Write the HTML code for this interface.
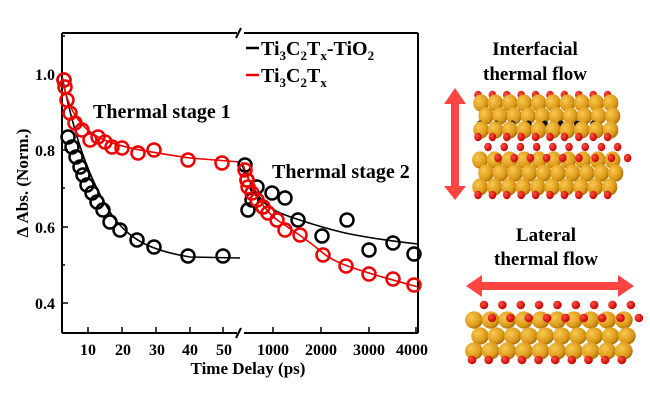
<!DOCTYPE html>
<html><head><style>
body{margin:0;background:#fff}
svg text{font-family:"Liberation Serif",serif;font-weight:bold}
</style></head><body>
<svg width="650" height="400" viewBox="0 0 650 400" xmlns="http://www.w3.org/2000/svg">
<defs>
<radialGradient id="gg" cx="0.35" cy="0.35" r="0.7"><stop offset="0" stop-color="#f8c850"/><stop offset="0.7" stop-color="#dd9a18"/><stop offset="1" stop-color="#a86c08"/></radialGradient>
<radialGradient id="rg" cx="0.35" cy="0.35" r="0.7"><stop offset="0" stop-color="#ff5040"/><stop offset="1" stop-color="#c00000"/></radialGradient>
<g id="g10"><circle cx="0" cy="0" r="8.6" fill="url(#gg)"/><circle cx="16" cy="0" r="8.6" fill="url(#gg)"/><circle cx="32" cy="0" r="8.6" fill="url(#gg)"/><circle cx="48" cy="0" r="8.6" fill="url(#gg)"/><circle cx="64" cy="0" r="8.6" fill="url(#gg)"/><circle cx="80" cy="0" r="8.6" fill="url(#gg)"/><circle cx="96" cy="0" r="8.6" fill="url(#gg)"/><circle cx="112" cy="0" r="8.6" fill="url(#gg)"/><circle cx="128" cy="0" r="8.6" fill="url(#gg)"/><circle cx="144" cy="0" r="8.6" fill="url(#gg)"/></g>
<g id="r10"><circle cx="0" cy="0" r="4.2" fill="url(#rg)"/><circle cx="16" cy="0" r="4.2" fill="url(#rg)"/><circle cx="32" cy="0" r="4.2" fill="url(#rg)"/><circle cx="48" cy="0" r="4.2" fill="url(#rg)"/><circle cx="64" cy="0" r="4.2" fill="url(#rg)"/><circle cx="80" cy="0" r="4.2" fill="url(#rg)"/><circle cx="96" cy="0" r="4.2" fill="url(#rg)"/><circle cx="112" cy="0" r="4.2" fill="url(#rg)"/><circle cx="128" cy="0" r="4.2" fill="url(#rg)"/><circle cx="144" cy="0" r="4.2" fill="url(#rg)"/></g>
<g id="r8"><circle cx="0" cy="0" r="4.2" fill="url(#rg)"/><circle cx="18" cy="0" r="4.2" fill="url(#rg)"/><circle cx="36" cy="0" r="4.2" fill="url(#rg)"/><circle cx="54" cy="0" r="4.2" fill="url(#rg)"/><circle cx="72" cy="0" r="4.2" fill="url(#rg)"/><circle cx="90" cy="0" r="4.2" fill="url(#rg)"/><circle cx="108" cy="0" r="4.2" fill="url(#rg)"/><circle cx="126" cy="0" r="4.2" fill="url(#rg)"/><circle cx="144" cy="0" r="4.2" fill="url(#rg)"/></g>
<g id="b8"><circle cx="0" cy="0" r="3.5" fill="#111"/><circle cx="18" cy="0" r="3.5" fill="#111"/><circle cx="36" cy="0" r="3.5" fill="#111"/><circle cx="54" cy="0" r="3.5" fill="#111"/><circle cx="72" cy="0" r="3.5" fill="#111"/><circle cx="90" cy="0" r="3.5" fill="#111"/><circle cx="108" cy="0" r="3.5" fill="#111"/><circle cx="126" cy="0" r="3.5" fill="#111"/></g>
</defs>
<!-- frame -->
<g stroke="#000" stroke-width="2" fill="none">
<line x1="62" y1="33" x2="62" y2="333"/>
<line x1="418" y1="33" x2="418" y2="333"/>
<line x1="62" y1="33" x2="237" y2="33"/><line x1="244" y1="33" x2="418" y2="33"/>
<line x1="62" y1="333" x2="237" y2="333"/><line x1="244" y1="333" x2="418" y2="333"/>
<line x1="236" y1="38" x2="241" y2="28"/><line x1="236" y1="338" x2="241" y2="328"/>
</g>
<g stroke="#000" stroke-width="1.5">
<line x1="62" y1="74" x2="68" y2="74"/><line x1="62" y1="150" x2="68" y2="150"/><line x1="62" y1="227" x2="68" y2="227"/><line x1="62" y1="303" x2="68" y2="303"/>
<line x1="62" y1="112" x2="65" y2="112"/><line x1="62" y1="188" x2="65" y2="188"/><line x1="62" y1="265" x2="65" y2="265"/><line x1="62" y1="36" x2="65" y2="36"/>
<line x1="88" y1="333" x2="88" y2="327"/><line x1="122" y1="333" x2="122" y2="327"/><line x1="156" y1="333" x2="156" y2="327"/><line x1="190" y1="333" x2="190" y2="327"/><line x1="223" y1="333" x2="223" y2="327"/>
<line x1="273" y1="333" x2="273" y2="327"/><line x1="321" y1="333" x2="321" y2="327"/><line x1="369" y1="333" x2="369" y2="327"/><line x1="416" y1="333" x2="416" y2="327"/>
</g>
<g font-size="16" text-anchor="end">
<text x="55" y="80">1.0</text><text x="55" y="156">0.8</text><text x="55" y="233">0.6</text><text x="55" y="309">0.4</text>
</g>
<g font-size="16" text-anchor="middle">
<text x="88" y="355">10</text><text x="123" y="355">20</text><text x="157" y="355">30</text><text x="190" y="355">40</text><text x="224" y="355">50</text>
<text x="273" y="355">1000</text><text x="321" y="355">2000</text><text x="369" y="355">3000</text><text x="412" y="355">4000</text>
<text x="248" y="374" font-size="17">Time Delay (ps)</text>
</g>
<text transform="translate(28,183) rotate(-90)" font-size="17" text-anchor="middle">Δ Abs. (Norm.)</text>
<!-- fits -->
<path d="M62,76 C75,140 90,180 110,212 S160,252 190,257 L240,258" stroke="#000" stroke-width="1.6" fill="none"/>
<path d="M62,78 C68,110 80,128 100,138 S150,152 190,158 L240,162" stroke="#e00" stroke-width="1.6" fill="none"/>
<path d="M242,165 C255,195 265,207 280,213 S330,230 350,234 S400,242 418,244" stroke="#000" stroke-width="1.6" fill="none"/>
<path d="M242,162 C250,185 262,210 280,222 S310,242 323,253 S360,270 369,273 S400,282 418,287" stroke="#e00" stroke-width="1.6" fill="none"/>
<!-- circles -->
<g fill="none" stroke="#000" stroke-width="2.5">
<circle cx="64" cy="80" r="6.5"/><circle cx="68" cy="137" r="6.5"/><circle cx="72" cy="147" r="6.5"/><circle cx="76" cy="157" r="6.5"/><circle cx="80" cy="167" r="6.5"/><circle cx="83" cy="175" r="6.5"/><circle cx="87" cy="185" r="6.5"/><circle cx="92" cy="193" r="6.5"/><circle cx="97" cy="202" r="6.5"/><circle cx="103" cy="210" r="6.5"/><circle cx="110" cy="222" r="6.5"/><circle cx="120" cy="230" r="6.5"/><circle cx="137" cy="240" r="6.5"/><circle cx="154" cy="247" r="6.5"/><circle cx="188" cy="256" r="6.5"/><circle cx="223" cy="256" r="6.5"/>
<circle cx="245" cy="165" r="6.5"/><circle cx="247" cy="180" r="6.5"/><circle cx="248" cy="210" r="6.5"/><circle cx="252" cy="200" r="6.5"/><circle cx="257" cy="187" r="6.5"/><circle cx="263" cy="207" r="6.5"/><circle cx="272" cy="193" r="6.5"/><circle cx="285" cy="198" r="6.5"/><circle cx="298" cy="220" r="6.5"/><circle cx="322" cy="236" r="6.5"/><circle cx="347" cy="220" r="6.5"/><circle cx="369" cy="250" r="6.5"/><circle cx="393" cy="243" r="6.5"/><circle cx="414" cy="254" r="6.5"/>
</g>
<g fill="none" stroke="#e00" stroke-width="2.5">
<circle cx="64" cy="80" r="6.5"/><circle cx="65" cy="87" r="6.5"/><circle cx="67" cy="100" r="6.5"/><circle cx="70" cy="113" r="6.5"/><circle cx="75" cy="123" r="6.5"/><circle cx="82" cy="130" r="6.5"/><circle cx="90" cy="140" r="6.5"/><circle cx="98" cy="137" r="6.5"/><circle cx="105" cy="142" r="6.5"/><circle cx="112" cy="147" r="6.5"/><circle cx="122" cy="148" r="6.5"/><circle cx="138" cy="153" r="6.5"/><circle cx="154" cy="150" r="6.5"/><circle cx="188" cy="160" r="6.5"/><circle cx="222" cy="163" r="6.5"/>
<circle cx="245" cy="170" r="6.5"/><circle cx="247" cy="180" r="6.5"/><circle cx="248" cy="187" r="6.5"/><circle cx="252" cy="193" r="6.5"/><circle cx="257" cy="200" r="6.5"/><circle cx="263" cy="207" r="6.5"/><circle cx="268" cy="213" r="6.5"/><circle cx="277" cy="220" r="6.5"/><circle cx="285" cy="230" r="6.5"/><circle cx="300" cy="235" r="6.5"/><circle cx="323" cy="255" r="6.5"/><circle cx="346" cy="266" r="6.5"/><circle cx="369" cy="274" r="6.5"/><circle cx="393" cy="279" r="6.5"/><circle cx="414" cy="285" r="6.5"/>
</g>
<!-- legend & annotations -->
<line x1="246" y1="48" x2="259" y2="48" stroke="#000" stroke-width="2.5"/>
<line x1="246" y1="75" x2="259" y2="75" stroke="#e00" stroke-width="2.5"/>
<text x="261" y="55" font-size="20">Ti<tspan font-size="13" dy="5">3</tspan><tspan dy="-5">C</tspan><tspan font-size="13" dy="5">2</tspan><tspan dy="-5">T</tspan><tspan font-size="13" dy="5">x</tspan><tspan dy="-5">-TiO</tspan><tspan font-size="13" dy="5">2</tspan></text>
<text x="261" y="82" font-size="20">Ti<tspan font-size="13" dy="5">3</tspan><tspan dy="-5">C</tspan><tspan font-size="13" dy="5">2</tspan><tspan dy="-5">T</tspan><tspan font-size="13" dy="5">x</tspan></text>
<text x="93" y="118" font-size="20">Thermal stage 1</text>
<text x="272" y="178" font-size="20">Thermal stage 2</text>
<!-- right illustration -->
<g font-size="19" text-anchor="middle">
<text x="535" y="55">Interfacial</text><text x="535" y="80">thermal flow</text>
<text x="546" y="241">Lateral</text><text x="546" y="265">thermal flow</text>
</g>
<g fill="#f44">
<rect x="451" y="100" width="8" height="90"/>
<polygon points="455,88 444,104 466,104"/><polygon points="455,200 444,186 466,186"/>
<rect x="478" y="282" width="144" height="8"/>
<polygon points="466,286 482,275 482,297"/><polygon points="634,286 618,275 618,297"/>
</g>
<!-- upper slab -->
<use href="#r10" transform="translate(478,95) scale(0.9,1)"/>
<use href="#g10" transform="translate(481,103) scale(0.9,1)"/>
<use href="#g10" transform="translate(486,116) scale(0.88,1)"/>
<use href="#b8" transform="translate(480,124) scale(0.9,1)"/>
<use href="#g10" transform="translate(481,130) scale(0.9,1)"/>
<use href="#r10" transform="translate(478,137) scale(0.9,1)"/>
<!-- lower slab -->
<use href="#r8" transform="translate(488,147) scale(0.9,1)"/>
<use href="#g10" transform="translate(480,160) scale(0.92,1)"/>
<use href="#r8" transform="translate(498,158) scale(0.9,1)"/>
<use href="#g10" transform="translate(486,173) scale(0.9,1)"/>
<use href="#g10" transform="translate(480,187) scale(0.9,1)"/>
<use href="#r10" transform="translate(478,195) scale(0.9,1)"/>
<!-- bottom slab -->
<use href="#r8" transform="translate(484,305) scale(1.02,1)"/>
<use href="#g10" transform="translate(474,320) scale(1.04,1)"/>
<use href="#r8" transform="translate(492,318) scale(1.02,1)"/>
<use href="#g10" transform="translate(480,336) scale(1.02,1)"/>
<use href="#g10" transform="translate(474,351) scale(1.04,1)"/>
<use href="#r10" transform="translate(472,360) scale(1.04,1)"/>
</svg>
</body></html>
